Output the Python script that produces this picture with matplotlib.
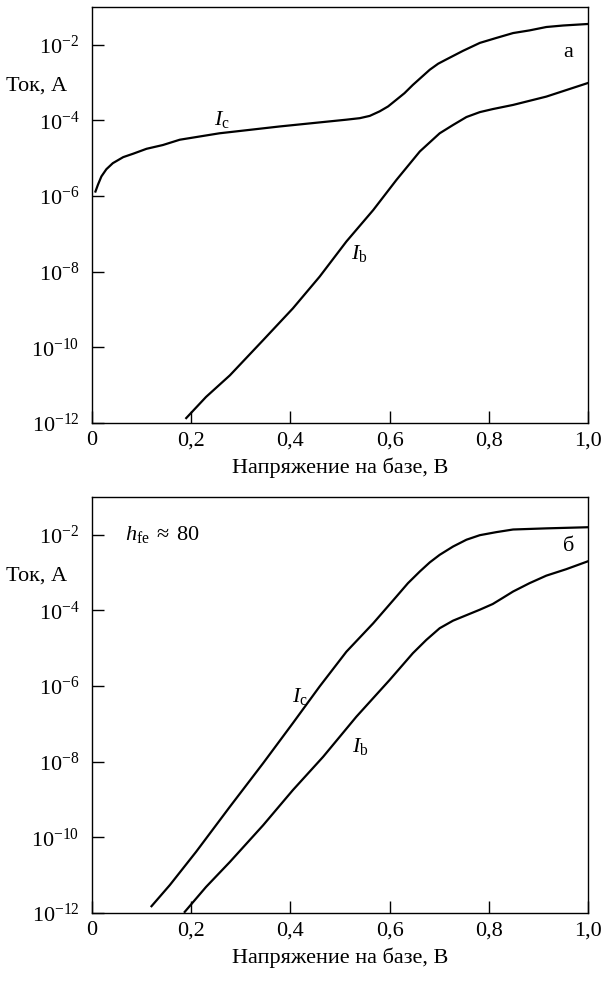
import matplotlib
matplotlib.use('Agg')
import matplotlib.pyplot as plt
from matplotlib.ticker import NullLocator

plt.rcParams['font.family'] = ['Liberation Serif', 'DejaVu Serif']
plt.rcParams['mathtext.fontset'] = 'custom'
plt.rcParams['mathtext.rm'] = 'Liberation Serif'
plt.rcParams['mathtext.it'] = 'Liberation Serif:italic'
plt.rcParams['mathtext.bf'] = 'Liberation Serif:bold'

# panel a  (voltage, log10 of current)
va_ic = [0.007, 0.012, 0.019, 0.029, 0.042, 0.063, 0.083, 0.11, 0.143, 0.177, 0.257,
         0.378, 0.513, 0.54, 0.56, 0.58, 0.597, 0.614, 0.63, 0.647, 0.664, 0.681,
         0.698, 0.714, 0.748, 0.782, 0.815, 0.849, 0.882, 0.916, 0.95, 1.0]
ia_ic = [-5.88, -5.70, -5.48, -5.29, -5.13, -4.97, -4.88, -4.75, -4.65, -4.51, -4.34,
         -4.16, -3.98, -3.94, -3.88, -3.76, -3.63, -3.45, -3.28, -3.06, -2.86, -2.66,
         -2.50, -2.39, -2.16, -1.95, -1.82, -1.69, -1.62, -1.53, -1.49, -1.45]
va_ib = [0.19, 0.23, 0.278, 0.345, 0.405, 0.459, 0.513, 0.567, 0.614, 0.661, 0.681,
         0.701, 0.728, 0.755, 0.782, 0.808, 0.849, 0.916, 1.0]
ia_ib = [-11.87, -11.31, -10.74, -9.81, -8.97, -8.13, -7.20, -6.37, -5.57, -4.82, -4.58,
         -4.34, -4.12, -3.91, -3.78, -3.70, -3.59, -3.37, -3.01]

# panel b
vb_ic = [0.12, 0.157, 0.21, 0.278, 0.345, 0.405, 0.459, 0.513, 0.567, 0.614, 0.637,
         0.661, 0.681, 0.701, 0.728, 0.755, 0.782, 0.815, 0.849, 0.916, 1.0]
ib_ic = [-11.82, -11.26, -10.38, -9.19, -8.04, -6.98, -6.01, -5.09, -4.34, -3.63, -3.28,
         -2.97, -2.73, -2.53, -2.31, -2.13, -2.01, -1.93, -1.86, -1.83, -1.80]
vb_ib = [0.187, 0.23, 0.278, 0.345, 0.405, 0.466, 0.533, 0.6, 0.647, 0.674, 0.701,
         0.728, 0.782, 0.808, 0.828, 0.849, 0.882, 0.916, 0.956, 1.0]
ib_ib = [-11.97, -11.31, -10.65, -9.68, -8.75, -7.87, -6.81, -5.84, -5.13, -4.78, -4.47,
         -4.27, -3.98, -3.83, -3.67, -3.50, -3.28, -3.08, -2.91, -2.70]

x_ticks = [0, 0.2, 0.4, 0.6, 0.8, 1.0]
x_labels = ['0', '0,2', '0,4', '0,6', '0,8', '1,0']
y_exp = [-12, -10, -8, -6, -4, -2]

fig = plt.figure(figsize=(6.02, 9.81), dpi=100)
ax1 = fig.add_axes([0.1528, 0.5688, 0.8239, 0.4241])
ax2 = fig.add_axes([0.1528, 0.0693, 0.8239, 0.4241])


def style(ax):
    ax.set_yscale('log')
    ax.set_xlim(0, 1.0)
    ax.set_ylim(1e-12, 1e-1)
    ax.set_xticks(x_ticks)
    ax.set_xticklabels(x_labels)
    ax.set_yticks([10.0 ** e for e in y_exp])
    ax.set_yticklabels([r'$10^{%d}$' % e for e in y_exp])
    ax.yaxis.set_minor_locator(NullLocator())
    ax.tick_params(direction='in', length=8.5, width=1.0, labelsize=16)
    ax.tick_params(axis='y', pad=9)
    ax.tick_params(axis='x', pad=6)
    for s in ax.spines.values():
        s.set_linewidth(1.0)
    ax.set_xlabel('Напряжение на базе, В', fontsize=16, labelpad=5)
    ax.text(-0.05, 10 ** -3.1, 'Ток, А', transform=ax.get_yaxis_transform(),
            ha='right', va='center', fontsize=16)


ax1.plot(va_ic, [10.0 ** v for v in ia_ic], color='black', lw=1.6)
ax1.plot(va_ib, [10.0 ** v for v in ia_ib], color='black', lw=1.6)
style(ax1)
ax1.text(0.263, 10 ** -3.98, r'$I_{\rm c}$', fontsize=16, ha='center', va='center')
ax1.text(0.538, 10 ** -7.51, r'$I_{\rm b}$', fontsize=16, ha='center', va='center')
ax1.text(0.96, 10 ** -2.2, 'а', fontsize=16, ha='center', va='center')

ax2.plot(vb_ic, [10.0 ** v for v in ib_ic], color='black', lw=1.6)
ax2.plot(vb_ib, [10.0 ** v for v in ib_ib], color='black', lw=1.6)
style(ax2)
ax2.text(0.066, 10 ** -2.0, r'$h_{\rm fe}\;\approx\;80$', fontsize=16, ha='left', va='center')
ax2.text(0.419, 10 ** -6.28, r'$I_{\rm c}$', fontsize=16, ha='center', va='center')
ax2.text(0.542, 10 ** -7.6, r'$I_{\rm b}$', fontsize=16, ha='center', va='center')
ax2.text(0.96, 10 ** -2.31, 'б', fontsize=16, ha='center', va='center')

fig.savefig('out.png', dpi=100)
